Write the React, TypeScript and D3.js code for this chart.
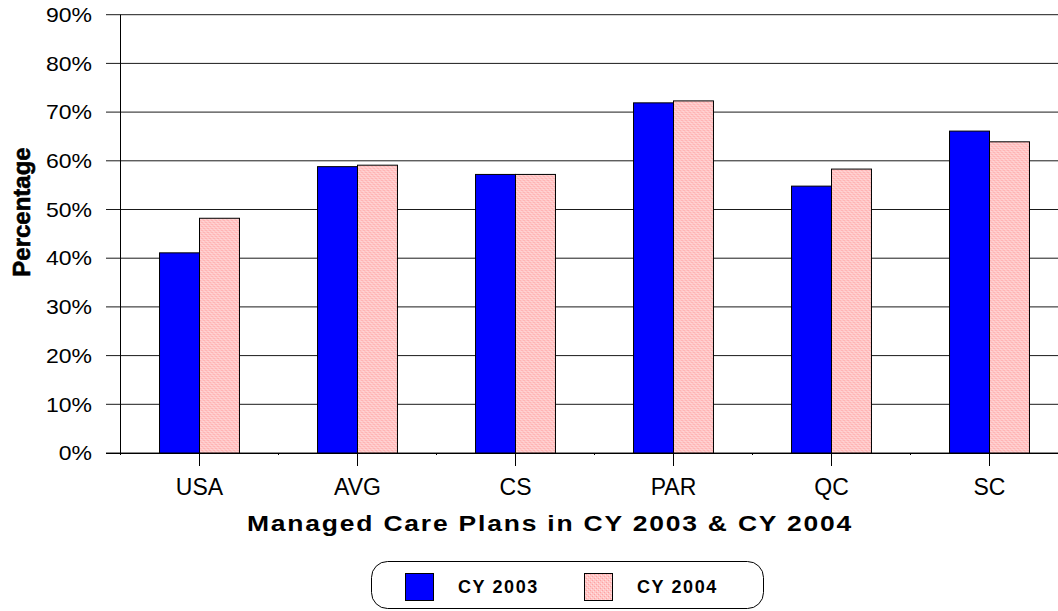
import React from "react";
import * as d3 from "d3";

const categories = ["USA", "AVG", "CS", "PAR", "QC", "SC"];
const seriesNames = ["CY 2003", "CY 2004"];
const cy2003 = [0.411, 0.588, 0.572, 0.719, 0.548, 0.661];
const cy2004 = [0.482, 0.591, 0.572, 0.723, 0.583, 0.639];
const yTicks = [0, 0.1, 0.2, 0.3, 0.4, 0.5, 0.6, 0.7, 0.8, 0.9];

const W = 1058;
const H = 611;
const font = "Arial, 'Liberation Sans', sans-serif";

export default function App() {
    const left = 120.5;
    const x0 = d3.scaleBand<string>()
        .domain(categories)
        .range([left, left + 6 * 158])
        .paddingInner(0.494)
        .paddingOuter(0.247);
    const x1 = d3.scaleBand<string>()
        .domain(seriesNames)
        .range([0, x0.bandwidth()]);
    const y = d3.scaleLinear().domain([0, 0.9]).range([453, 14.7]);
    const fmt = d3.format(".0%");
    const step = x0.step();
    const fills = ["#0000ff", "url(#pinkHatch)"];
    const values = [cy2003, cy2004];

    return (
        <svg width={W} height={H} style={{ position: "absolute", left: 0, top: 0, background: "#fff" }}>
            <defs>
                <pattern id="pinkHatch" width={4} height={4} patternUnits="userSpaceOnUse">
                    <rect width={4} height={4} fill="#ffc6c6" />
                    <rect x={0} y={0} width={1} height={1} fill="#ffa3a3" />
                    <rect x={2} y={2} width={1} height={1} fill="#ffa3a3" />
                    <rect x={1} y={3} width={1} height={1} fill="#ffe0e0" />
                    <rect x={3} y={1} width={1} height={1} fill="#ffe0e0" />
                </pattern>
            </defs>

            {/* gridlines with left tick marks */}
            {yTicks.map(t => (
                <line key={t} x1={106} x2={left + 6 * step} y1={y(t)} y2={y(t)}
                    stroke="#1a1a1a" strokeWidth={1} />
            ))}
            {yTicks.map(t => (
                <text key={"l" + t} transform={`translate(92,${y(t)}) scale(1.15,1)`} dy="0.36em"
                    textAnchor="end" fontFamily={font} fontSize={20} fill="#000">{fmt(t)}</text>
            ))}

            {/* bars */}
            {categories.map((c, i) => (
                <g key={c} transform={`translate(${x0(c)},0)`}>
                    {seriesNames.map((s, j) => (
                        <rect key={s} x={x1(s)} y={y(values[j][i])}
                            width={x1.bandwidth()} height={y(0) - y(values[j][i])}
                            fill={fills[j]} stroke="#000" strokeWidth={1} />
                    ))}
                </g>
            ))}

            {/* axes */}
            <line x1={left} x2={left} y1={y(0.9)} y2={y(0)} stroke="#000" />
            <line x1={106} x2={left + 6 * step} y1={y(0) + 0.5} y2={y(0) + 0.5} stroke="#000" />
            {categories.map(c => {
                const cx = x0(c)! + x0.bandwidth() / 2;
                const bx = x0(c)! - (step - x0.bandwidth()) / 2;
                return (
                    <g key={"t" + c}>
                        <line x1={cx} x2={cx} y1={y(0)} y2={466} stroke="#000" />
                        <line x1={bx} x2={bx} y1={y(0)} y2={y(0) + 2} stroke="#000" />
                        <text x={cx} y={495} textAnchor="middle" fontFamily={font}
                            fontSize={23} fill="#000">{c}</text>
                    </g>
                );
            })}

            {/* axis titles */}
            <text x={247} y={531} fontFamily={font} fontSize={22} letterSpacing={1.5}
                fontWeight="bold" textLength={606} lengthAdjust="spacingAndGlyphs" fill="#000">
                Managed Care Plans in CY 2003 &amp; CY 2004
            </text>
            <text transform="translate(30,212) rotate(-90)" textAnchor="middle" fontFamily={font}
                fontSize={24} fontWeight="bold" stroke="#000" strokeWidth={0.6} fill="#000">Percentage</text>

            {/* legend */}
            <rect x={371.5} y={561.5} width={392} height={47} rx={16} ry={16}
                fill="#fff" stroke="#000" strokeWidth={1} />
            {seriesNames.map((s, j) => (
                <g key={"lg" + s} transform={`translate(${405 + j * 179},0)`}>
                    <rect x={0.5} y={573.5} width={28} height={27} fill={fills[j]} stroke="#000" />
                    <text x={53} y={593} fontFamily={font} fontSize={18} fontWeight="bold"
                        letterSpacing={1.6} fill="#000">{s}</text>
                </g>
            ))}
        </svg>
    );
}
